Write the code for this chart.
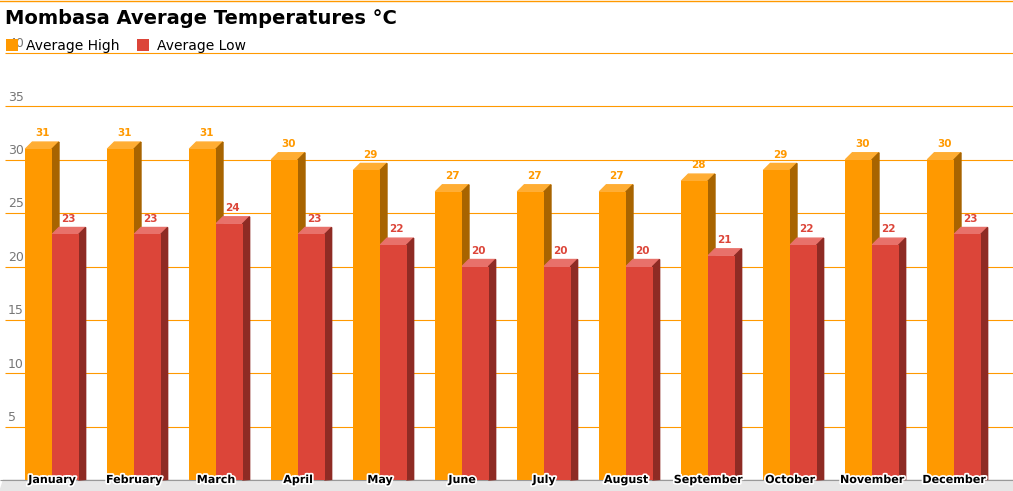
import numpy as np, pandas as pd, seaborn as sns
import matplotlib
matplotlib.use("Agg")
import matplotlib.pyplot as plt
from matplotlib.patches import Polygon
import matplotlib.patheffects as pe

months = ["January","February","March","April","May","June","July","August","September","October","November","December"]
avg_high = [31,31,31,30,29,27,27,27,28,29,30,30]
avg_low = [23,23,24,23,22,20,20,20,21,22,22,23]
series = ["Average High","Average Low"]
yticks = [5,10,15,20,25,30,35,40]

colors = {"Average High":"#FF9900","Average Low":"#DC4539"}
tops = {"Average High":"#FFAD33","Average Low":"#E8716A"}
sides = {"Average High":"#A86400","Average Low":"#8E2B24"}

df = pd.DataFrame({"Month":months*2,"Temp":avg_high+avg_low,
                   "Series":[series[0]]*12+[series[1]]*12})

W,H = 1013,491
fig = plt.figure(figsize=(W/100,H/100),dpi=100)
ax = fig.add_axes([0,0,1,1])
ppu_x = 82.0
ppu_y = (480-53)/40.0
x0 = -52/ppu_x
ax.set_xlim(x0,(W-52)/ppu_x+0)
ax.set_ylim(-(H-480)/ppu_y,(480)/ppu_y)
ax.axis("off")

# floor
dxu, dyu = 7/ppu_x, 7/ppu_y
ax.add_patch(Polygon([(x0,-(H-480)/ppu_y),(x0+dxu*0.5,0),(x0+1013/ppu_x,0),(x0+1013/ppu_x,-(H-480)/ppu_y)],
                     closed=True,color="#E6E6E6",zorder=0))
# grid
for v in yticks:
    ax.hlines(v,x0+5/ppu_x,x0+1013/ppu_x,color="#FF9900",lw=0.8,zorder=0)
    ax.text(x0+8/ppu_x,v+0.25,str(v),color="#777777",fontsize=9,va="bottom",ha="left")
ax.hlines(0,x0,x0+1013/ppu_x,color="#999999",lw=0.8,zorder=0)
fig.add_artist(plt.Line2D([0,1],[1-0.5/H,1-0.5/H],color="#FF9900",lw=1))

sns.barplot(data=df,x="Month",y="Temp",hue="Series",palette=colors,width=0.65,
            ax=ax,saturation=1,legend=True,edgecolor="none",zorder=2)
ax.set_xlim(x0,(W-52)/ppu_x)
ax.set_ylim(-(H-480)/ppu_y,(480)/ppu_y)

for cont,s in zip(ax.containers,series):
    for p in cont.patches:
        x,w,h = p.get_x(),p.get_width(),p.get_height()
        ax.add_patch(Polygon([(x,h),(x+dxu,h+dyu),(x+w+dxu,h+dyu),(x+w,h)],color=tops[s],zorder=1.9))
        ax.add_patch(Polygon([(x+w,0),(x+w,h),(x+w+dxu,h+dyu),(x+w+dxu,dyu-0.6)],color=sides[s],zorder=1.9))
        ax.text(x+w/2+dxu*0.5,h+dyu+0.35,f"{h:.0f}",color=colors[s],fontsize=7.5,fontweight="bold",
                ha="center",va="bottom")

for i,m in enumerate(months):
    ax.text(i,0.0,m,ha="center",va="center",fontsize=8,fontweight="bold",color="black",zorder=5,
            path_effects=[pe.withStroke(linewidth=2.5,foreground="white")])

fig.text(5/W,1-18/H,"Mombasa Average Temperatures °C",fontsize=14,fontweight="bold",va="center",ha="left")
ax.legend(loc="center left",bbox_to_anchor=(0/W,1-46/H),ncol=2,frameon=False,fontsize=10,
          handlelength=0.9,handleheight=0.9,handletextpad=0.6,columnspacing=1.2,
          bbox_transform=fig.transFigure,borderaxespad=0)
fig.savefig("out.png",dpi=100)
